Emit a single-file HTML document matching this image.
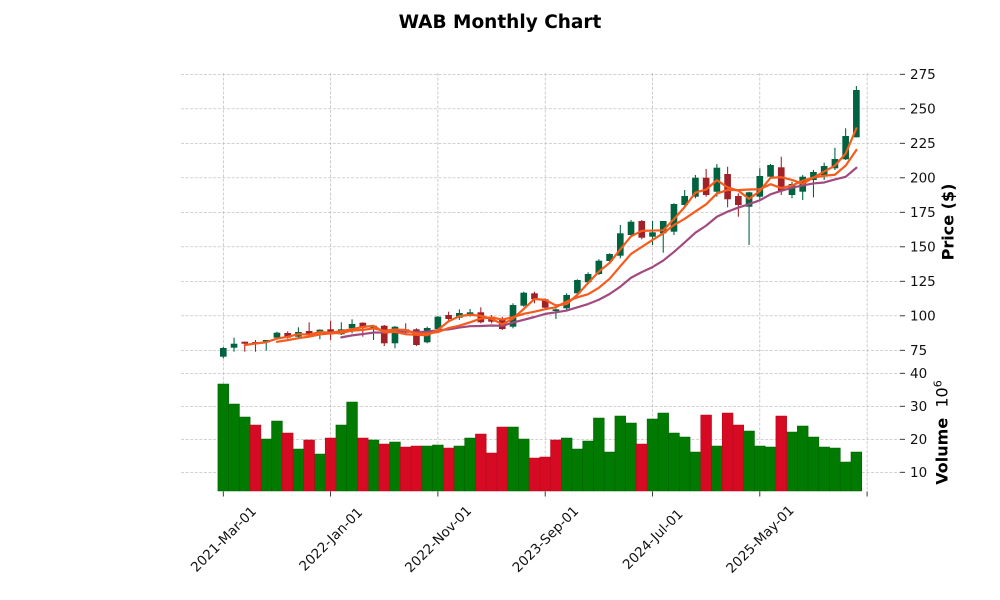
<!DOCTYPE html>
<html><head><meta charset="utf-8"><style>
html,body{margin:0;padding:0;background:#fff;}
svg{display:block;}
text{font-family:"DejaVu Sans","Liberation Sans",sans-serif;}
</style></head><body>
<svg width="1000" height="600" viewBox="0 0 1000 600" xmlns="http://www.w3.org/2000/svg">
<rect width="1000" height="600" fill="#fff"/>
<text x="500" y="28" text-anchor="middle" font-weight="bold" font-size="18.5" fill="#000">WAB Monthly Chart</text>

<g stroke="#b8b8b8" stroke-width="0.7" stroke-dasharray="3,1.6" fill="none">
<line x1="181" x2="900" y1="74.3" y2="74.3"/>
<line x1="181" x2="900" y1="108.8" y2="108.8"/>
<line x1="181" x2="900" y1="143.3" y2="143.3"/>
<line x1="181" x2="900" y1="177.8" y2="177.8"/>
<line x1="181" x2="900" y1="212.3" y2="212.3"/>
<line x1="181" x2="900" y1="246.8" y2="246.8"/>
<line x1="181" x2="900" y1="281.3" y2="281.3"/>
<line x1="181" x2="900" y1="315.8" y2="315.8"/>
<line x1="181" x2="900" y1="350.3" y2="350.3"/>
<line x1="181" x2="900" y1="373.3" y2="373.3"/>
<line x1="181" x2="900" y1="406.3" y2="406.3"/>
<line x1="181" x2="900" y1="439.3" y2="439.3"/>
<line x1="181" x2="900" y1="472.3" y2="472.3"/>
<line x1="223.3" x2="223.3" y1="73" y2="491"/>
<line x1="330.6" x2="330.6" y1="73" y2="491"/>
<line x1="437.9" x2="437.9" y1="73" y2="491"/>
<line x1="545.2" x2="545.2" y1="73" y2="491"/>
<line x1="652.5" x2="652.5" y1="73" y2="491"/>
<line x1="759.8" x2="759.8" y1="73" y2="491"/>
<line x1="867.1" x2="867.1" y1="73" y2="491"/>
</g>

<g stroke="#222" stroke-width="0.9">
<line x1="900" x2="905" y1="74.3" y2="74.3"/>
<line x1="900" x2="905" y1="108.8" y2="108.8"/>
<line x1="900" x2="905" y1="143.3" y2="143.3"/>
<line x1="900" x2="905" y1="177.8" y2="177.8"/>
<line x1="900" x2="905" y1="212.3" y2="212.3"/>
<line x1="900" x2="905" y1="246.8" y2="246.8"/>
<line x1="900" x2="905" y1="281.3" y2="281.3"/>
<line x1="900" x2="905" y1="315.8" y2="315.8"/>
<line x1="900" x2="905" y1="350.3" y2="350.3"/>
<line x1="900" x2="905" y1="373.3" y2="373.3"/>
<line x1="900" x2="905" y1="406.3" y2="406.3"/>
<line x1="900" x2="905" y1="439.3" y2="439.3"/>
<line x1="900" x2="905" y1="472.3" y2="472.3"/>
<line x1="223.3" x2="223.3" y1="491.5" y2="496.5"/>
<line x1="330.6" x2="330.6" y1="491.5" y2="496.5"/>
<line x1="437.9" x2="437.9" y1="491.5" y2="496.5"/>
<line x1="545.2" x2="545.2" y1="491.5" y2="496.5"/>
<line x1="652.5" x2="652.5" y1="491.5" y2="496.5"/>
<line x1="759.8" x2="759.8" y1="491.5" y2="496.5"/>
<line x1="867.1" x2="867.1" y1="491.5" y2="496.5"/>
</g>

<g font-size="13.5" fill="#111">
<text x="910" y="79.2">275</text>
<text x="910" y="113.7">250</text>
<text x="910" y="148.2">225</text>
<text x="910" y="182.7">200</text>
<text x="910" y="217.2">175</text>
<text x="910" y="251.7">150</text>
<text x="910" y="286.2">125</text>
<text x="910" y="320.7">100</text>
<text x="910" y="355.2">75</text>
<text x="910" y="378.2">40</text>
<text x="910" y="411.2">30</text>
<text x="910" y="444.2">20</text>
<text x="910" y="477.2">10</text>
</g>

<g font-size="13.5" fill="#111" text-anchor="middle">
<text transform="translate(223.3,539) rotate(-45)" dy="0.36em">2021-Mar-01</text>
<text transform="translate(330.6,539) rotate(-45)" dy="0.36em">2022-Jan-01</text>
<text transform="translate(437.9,539) rotate(-45)" dy="0.36em">2022-Nov-01</text>
<text transform="translate(545.2,539) rotate(-45)" dy="0.36em">2023-Sep-01</text>
<text transform="translate(652.5,539) rotate(-45)" dy="0.36em">2024-Jul-01</text>
<text transform="translate(759.8,539) rotate(-45)" dy="0.36em">2025-May-01</text>
</g>

<text transform="translate(953.5,222) rotate(-90)" text-anchor="middle" font-size="16" font-weight="bold" fill="#000">Price ($)</text>
<text transform="translate(947.5,432.5) rotate(-90)" text-anchor="middle" font-size="16" fill="#000"><tspan font-weight="bold">Volume</tspan><tspan>&#160;&#160;10</tspan><tspan dy="-6" font-size="11">6</tspan></text>

<g transform="translate(223.3,0) scale(10.73,1)">
<g fill="#007a00" stroke="#006400" stroke-width="0.6">
<rect x="-0.5" y="384" width="1" height="107" vector-effect="non-scaling-stroke"/>
<rect x="0.5" y="404" width="1" height="87" vector-effect="non-scaling-stroke"/>
<rect x="1.5" y="417" width="1" height="74" vector-effect="non-scaling-stroke"/>
<rect x="3.5" y="439" width="1" height="52" vector-effect="non-scaling-stroke"/>
<rect x="4.5" y="421" width="1" height="70" vector-effect="non-scaling-stroke"/>
<rect x="6.5" y="449" width="1" height="42" vector-effect="non-scaling-stroke"/>
<rect x="8.5" y="454" width="1" height="37" vector-effect="non-scaling-stroke"/>
<rect x="10.5" y="425" width="1" height="66" vector-effect="non-scaling-stroke"/>
<rect x="11.5" y="402" width="1" height="89" vector-effect="non-scaling-stroke"/>
<rect x="13.5" y="440" width="1" height="51" vector-effect="non-scaling-stroke"/>
<rect x="15.5" y="442" width="1" height="49" vector-effect="non-scaling-stroke"/>
<rect x="18.5" y="446" width="1" height="45" vector-effect="non-scaling-stroke"/>
<rect x="19.5" y="445" width="1" height="46" vector-effect="non-scaling-stroke"/>
<rect x="21.5" y="446" width="1" height="45" vector-effect="non-scaling-stroke"/>
<rect x="22.5" y="438" width="1" height="53" vector-effect="non-scaling-stroke"/>
<rect x="26.5" y="427" width="1" height="64" vector-effect="non-scaling-stroke"/>
<rect x="27.5" y="439" width="1" height="52" vector-effect="non-scaling-stroke"/>
<rect x="31.5" y="438" width="1" height="53" vector-effect="non-scaling-stroke"/>
<rect x="32.5" y="449" width="1" height="42" vector-effect="non-scaling-stroke"/>
<rect x="33.5" y="441" width="1" height="50" vector-effect="non-scaling-stroke"/>
<rect x="34.5" y="418" width="1" height="73" vector-effect="non-scaling-stroke"/>
<rect x="35.5" y="452" width="1" height="39" vector-effect="non-scaling-stroke"/>
<rect x="36.5" y="416" width="1" height="75" vector-effect="non-scaling-stroke"/>
<rect x="37.5" y="423" width="1" height="68" vector-effect="non-scaling-stroke"/>
<rect x="39.5" y="419" width="1" height="72" vector-effect="non-scaling-stroke"/>
<rect x="40.5" y="413" width="1" height="78" vector-effect="non-scaling-stroke"/>
<rect x="41.5" y="433" width="1" height="58" vector-effect="non-scaling-stroke"/>
<rect x="42.5" y="437" width="1" height="54" vector-effect="non-scaling-stroke"/>
<rect x="43.5" y="452" width="1" height="39" vector-effect="non-scaling-stroke"/>
<rect x="45.5" y="446" width="1" height="45" vector-effect="non-scaling-stroke"/>
<rect x="48.5" y="431" width="1" height="60" vector-effect="non-scaling-stroke"/>
<rect x="49.5" y="446" width="1" height="45" vector-effect="non-scaling-stroke"/>
<rect x="50.5" y="447" width="1" height="44" vector-effect="non-scaling-stroke"/>
<rect x="52.5" y="432" width="1" height="59" vector-effect="non-scaling-stroke"/>
<rect x="53.5" y="426" width="1" height="65" vector-effect="non-scaling-stroke"/>
<rect x="54.5" y="437" width="1" height="54" vector-effect="non-scaling-stroke"/>
<rect x="55.5" y="447" width="1" height="44" vector-effect="non-scaling-stroke"/>
<rect x="56.5" y="448" width="1" height="43" vector-effect="non-scaling-stroke"/>
<rect x="57.5" y="462" width="1" height="29" vector-effect="non-scaling-stroke"/>
<rect x="58.5" y="452" width="1" height="39" vector-effect="non-scaling-stroke"/>
</g>
<g fill="#d60a22" stroke="#b80a1d" stroke-width="0.6">
<rect x="2.5" y="425" width="1" height="66" vector-effect="non-scaling-stroke"/>
<rect x="5.5" y="433" width="1" height="58" vector-effect="non-scaling-stroke"/>
<rect x="7.5" y="440" width="1" height="51" vector-effect="non-scaling-stroke"/>
<rect x="9.5" y="438" width="1" height="53" vector-effect="non-scaling-stroke"/>
<rect x="12.5" y="438" width="1" height="53" vector-effect="non-scaling-stroke"/>
<rect x="14.5" y="444" width="1" height="47" vector-effect="non-scaling-stroke"/>
<rect x="16.5" y="447" width="1" height="44" vector-effect="non-scaling-stroke"/>
<rect x="17.5" y="446" width="1" height="45" vector-effect="non-scaling-stroke"/>
<rect x="20.5" y="448" width="1" height="43" vector-effect="non-scaling-stroke"/>
<rect x="23.5" y="434" width="1" height="57" vector-effect="non-scaling-stroke"/>
<rect x="24.5" y="453" width="1" height="38" vector-effect="non-scaling-stroke"/>
<rect x="25.5" y="427" width="1" height="64" vector-effect="non-scaling-stroke"/>
<rect x="28.5" y="458" width="1" height="33" vector-effect="non-scaling-stroke"/>
<rect x="29.5" y="457" width="1" height="34" vector-effect="non-scaling-stroke"/>
<rect x="30.5" y="440" width="1" height="51" vector-effect="non-scaling-stroke"/>
<rect x="38.5" y="444" width="1" height="47" vector-effect="non-scaling-stroke"/>
<rect x="44.5" y="415" width="1" height="76" vector-effect="non-scaling-stroke"/>
<rect x="46.5" y="413" width="1" height="78" vector-effect="non-scaling-stroke"/>
<rect x="47.5" y="425" width="1" height="66" vector-effect="non-scaling-stroke"/>
<rect x="51.5" y="416" width="1" height="75" vector-effect="non-scaling-stroke"/>
</g>

<g fill="#006340">
<rect x="-0.05" y="347" width="0.1" height="11.3"/><rect x="-0.31" y="348" width="0.62" height="8.7"/>
<rect x="0.95" y="337.7" width="0.1" height="14"/><rect x="0.69" y="343.7" width="0.62" height="4"/>
<rect x="3.95" y="340" width="0.1" height="10.7"/><rect x="3.69" y="340" width="0.62" height="2.3"/>
<rect x="4.95" y="331.7" width="0.1" height="6.6"/><rect x="4.69" y="332.7" width="0.62" height="5"/>
<rect x="6.95" y="327.3" width="0.1" height="10.4"/><rect x="6.69" y="332" width="0.62" height="4.7"/>
<rect x="8.95" y="329.3" width="0.1" height="10"/><rect x="8.69" y="329.7" width="0.62" height="2"/>
<rect x="10.95" y="322.3" width="0.1" height="12.7"/><rect x="10.69" y="329.3" width="0.62" height="5"/>
<rect x="11.95" y="319.3" width="0.1" height="14"/><rect x="11.69" y="324" width="0.62" height="4.3"/>
<rect x="13.95" y="325" width="0.1" height="15"/><rect x="13.69" y="325.7" width="0.62" height="3.6"/>
<rect x="15.95" y="326" width="0.1" height="22.3"/><rect x="15.69" y="326.7" width="0.62" height="16.6"/>
<rect x="18.95" y="326.7" width="0.1" height="16.6"/><rect x="18.69" y="328" width="0.62" height="14.3"/>
<rect x="19.95" y="316" width="0.1" height="14"/><rect x="19.69" y="316.7" width="0.62" height="12.3"/>
<rect x="21.95" y="309.3" width="0.1" height="10.7"/><rect x="21.69" y="313" width="0.62" height="4.7"/>
<rect x="22.95" y="309" width="0.1" height="7.7"/><rect x="22.69" y="312.3" width="0.62" height="3.4"/>
<rect x="26.95" y="303.3" width="0.1" height="25"/><rect x="26.69" y="305" width="0.62" height="21.7"/>
<rect x="27.95" y="291.7" width="0.1" height="15"/><rect x="27.69" y="292.7" width="0.62" height="13"/>
<rect x="30.95" y="308.3" width="0.1" height="10.7"/><rect x="30.69" y="309.3" width="0.62" height="1.7"/>
<rect x="31.95" y="293.3" width="0.1" height="16.7"/><rect x="31.69" y="295" width="0.62" height="13.3"/>
<rect x="32.95" y="279.3" width="0.1" height="14.7"/><rect x="32.69" y="280" width="0.62" height="13.3"/>
<rect x="33.95" y="272.3" width="0.1" height="11.7"/><rect x="33.69" y="274" width="0.62" height="8.3"/>
<rect x="34.95" y="259.3" width="0.1" height="15.7"/><rect x="34.69" y="260.7" width="0.62" height="13.3"/>
<rect x="35.95" y="253.3" width="0.1" height="8.4"/><rect x="35.69" y="254" width="0.62" height="7"/>
<rect x="36.95" y="225" width="0.1" height="33.3"/><rect x="36.69" y="233.3" width="0.62" height="22.4"/>
<rect x="37.95" y="220" width="0.1" height="16.7"/><rect x="37.69" y="221.7" width="0.62" height="13.3"/>
<rect x="39.95" y="221" width="0.1" height="24"/><rect x="39.69" y="232.3" width="0.62" height="4.4"/>
<rect x="40.95" y="221" width="0.1" height="31.7"/><rect x="40.69" y="221" width="0.62" height="12.3"/>
<rect x="41.95" y="203.3" width="0.1" height="31.7"/><rect x="41.69" y="204" width="0.62" height="27.7"/>
<rect x="42.95" y="190" width="0.1" height="16.7"/><rect x="42.69" y="196" width="0.62" height="9"/>
<rect x="43.95" y="175" width="0.1" height="23.3"/><rect x="43.69" y="177.7" width="0.62" height="19"/>
<rect x="45.95" y="164" width="0.1" height="32.7"/><rect x="45.69" y="167.7" width="0.62" height="24"/>
<rect x="48.95" y="191.7" width="0.1" height="53.3"/><rect x="48.69" y="192.3" width="0.62" height="14.4"/>
<rect x="49.95" y="168.3" width="0.1" height="31.7"/><rect x="49.69" y="176" width="0.62" height="20.7"/>
<rect x="50.95" y="164" width="0.1" height="14.3"/><rect x="50.69" y="165" width="0.62" height="11.7"/>
<rect x="52.95" y="181.7" width="0.1" height="16.6"/><rect x="52.69" y="184" width="0.62" height="11"/>
<rect x="53.95" y="175" width="0.1" height="25"/><rect x="53.69" y="176.7" width="0.62" height="15"/>
<rect x="54.95" y="170" width="0.1" height="27.3"/><rect x="54.69" y="172" width="0.62" height="8"/>
<rect x="55.95" y="162.7" width="0.1" height="17.3"/><rect x="55.69" y="166" width="0.62" height="9"/>
<rect x="56.95" y="147.7" width="0.1" height="22.3"/><rect x="56.69" y="159" width="0.62" height="9.3"/>
<rect x="57.95" y="128.3" width="0.1" height="31.7"/><rect x="57.69" y="136" width="0.62" height="23.3"/>
<rect x="58.95" y="86" width="0.1" height="51.3"/><rect x="58.69" y="90" width="0.62" height="47.3"/>
</g>
<g fill="#a02128">
<rect x="1.95" y="341.7" width="0.1" height="10"/><rect x="1.69" y="341.7" width="0.62" height="2"/>
<rect x="2.95" y="340" width="0.1" height="11.7"/><rect x="2.69" y="342" width="0.62" height="1.3"/>
<rect x="5.95" y="331.3" width="0.1" height="7.4"/><rect x="5.69" y="333" width="0.62" height="4.7"/>
<rect x="7.95" y="322.3" width="0.1" height="12.7"/><rect x="7.69" y="331" width="0.62" height="3.3"/>
<rect x="9.95" y="320.7" width="0.1" height="19.3"/><rect x="9.69" y="329.3" width="0.62" height="5"/>
<rect x="12.95" y="322.3" width="0.1" height="14.4"/><rect x="12.69" y="322.7" width="0.62" height="5"/>
<rect x="14.95" y="325" width="0.1" height="21"/><rect x="14.69" y="325.7" width="0.62" height="17.6"/>
<rect x="16.95" y="323.3" width="0.1" height="11.7"/><rect x="16.69" y="329.3" width="0.62" height="3.4"/>
<rect x="17.95" y="328.3" width="0.1" height="17.7"/><rect x="17.69" y="329.3" width="0.62" height="15.7"/>
<rect x="20.95" y="311.7" width="0.1" height="10"/><rect x="20.69" y="315" width="0.62" height="4"/>
<rect x="23.95" y="307.3" width="0.1" height="16"/><rect x="23.69" y="312.3" width="0.62" height="10"/>
<rect x="24.95" y="315" width="0.1" height="8.3"/><rect x="24.69" y="316.7" width="0.62" height="5"/>
<rect x="25.95" y="316.7" width="0.1" height="13.3"/><rect x="25.69" y="319" width="0.62" height="10"/>
<rect x="28.95" y="291.7" width="0.1" height="11.6"/><rect x="28.69" y="293.3" width="0.62" height="6"/>
<rect x="29.95" y="298.3" width="0.1" height="10"/><rect x="29.69" y="299.3" width="0.62" height="8.4"/>
<rect x="38.95" y="220" width="0.1" height="19.3"/><rect x="38.69" y="221" width="0.62" height="16.7"/>
<rect x="44.95" y="169" width="0.1" height="27.7"/><rect x="44.69" y="177.7" width="0.62" height="17.3"/>
<rect x="46.95" y="166.7" width="0.1" height="40.6"/><rect x="46.69" y="174" width="0.62" height="25.3"/>
<rect x="47.95" y="193.3" width="0.1" height="23.4"/><rect x="47.69" y="196" width="0.62" height="9"/>
<rect x="51.95" y="156.7" width="0.1" height="38.3"/><rect x="51.69" y="167.3" width="0.62" height="23.4"/>
</g>

<g fill="none" stroke-width="2.2" stroke-linejoin="round" stroke-linecap="round">
<polyline vector-effect="non-scaling-stroke" stroke="#a24a7f" points="11,337.37 12,335.37 13,334.03 14,332.53 15,332.56 16,331.45 17,331.45 18,332.06 19,331.73 20,330.26 21,329.37 22,327.59 23,326.18 24,326.03 25,325.53 26,325.81 27,322.62 28,319.78 29,317 30,313.89 31,312.33 32,310.53 33,307.28 34,304.03 35,299.73 36,294.03 37,286.67 38,277.73 39,272.12 40,267.08 41,260.56 42,251.92 43,242.48 44,232.7 45,225.62 46,216.76 47,211.64 48,207.56 49,204.14 50,200.33 51,194.28 52,190.81 53,187.73 54,185.45 55,183.45 56,182.48 57,179.48 58,176.83 59,167.73"/>
<polyline vector-effect="non-scaling-stroke" stroke="#f65b1c" points="5,341.85 6,340.13 7,338.18 8,336.62 9,334.4 10,333.45 11,332.88 12,330.6 13,329.88 14,328.45 15,330.72 16,329.45 17,330.02 18,333.52 19,333.57 20,332.07 21,328.02 22,325.73 23,322.33 24,318.55 25,317.5 26,319.55 27,317.22 28,313.83 29,311.67 30,309.23 31,307.17 32,301.5 33,297.33 34,294.22 35,287.78 36,278.83 37,266.17 38,253.95 39,246.9 40,239.95 41,233.33 42,225 43,218.78 44,211.45 45,204.33 46,193.57 47,189.95 48,190.12 49,189.5 50,189.22 51,184.22 52,188.05 53,185.5 54,180.78 55,177.4 56,175.73 57,174.73 58,165.62 59,149.95"/>
<polyline vector-effect="non-scaling-stroke" stroke="#f65b1c" points="2,345.13 3,343.47 4,342.23 5,338.57 6,336.8 7,334.13 8,334.67 9,332 10,332.77 11,331.1 12,329.2 13,327 14,325.8 15,332.23 16,331.9 17,334.23 18,334.8 19,335.23 20,329.9 21,321.23 22,316.23 23,314.77 24,315.87 25,318.77 26,324.33 27,318.57 28,308.9 29,299 30,299.9 31,305.43 32,304 33,294.77 34,283 35,271.57 36,262.9 37,249.33 38,236.33 39,230.9 40,230.57 41,230.33 42,219.1 43,207 44,192.57 45,189.57 46,180.13 47,187.33 48,190.67 49,198.87 50,191.1 51,177.77 52,177.23 53,179.9 54,183.8 55,177.57 56,171.57 57,165.67 58,153.67 59,128.33"/>
</g>
</g>
</svg>
</body></html>
